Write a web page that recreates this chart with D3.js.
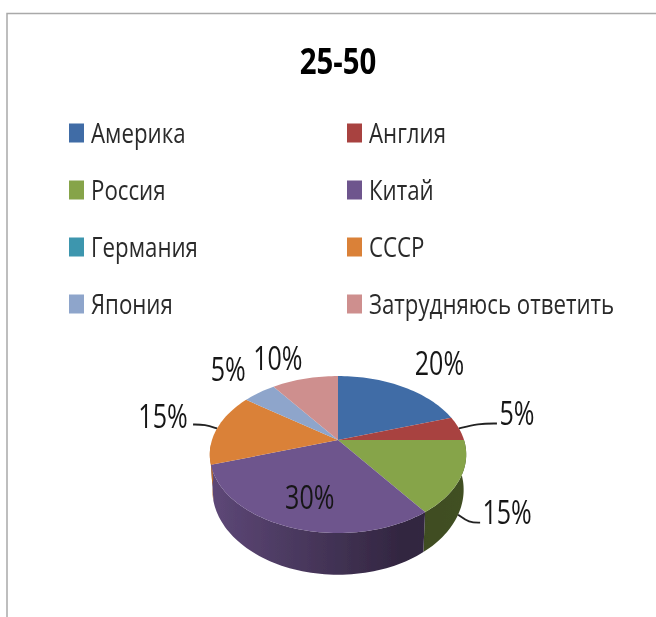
<!DOCTYPE html>
<html>
<head>
<meta charset="UTF-8" />
<title>25-50</title>
<script src="https://d3js.org/d3.v7.min.js"></script>
<style>
    html, body { margin: 0; padding: 0; background: #fff; }
    svg { display: block; }
    text { font-family: "Open Sans", "Noto Sans", sans-serif; fill: #1c1c1c; }
</style>
</head>
<body>
<script>
    const title = '25-50'
    const categories = ['Америка', 'Англия', 'Россия', 'Китай', 'Германия', 'СССР', 'Япония', 'Затрудняюсь ответить']
    const shares = [20, 5, 15, 30, 0, 15, 5, 10]
    const colors = ['#3f6ca6', '#a8423f', '#86a44a', '#6e548d', '#3d96ae', '#da8137', '#8ea5cb', '#ce8f8e']

    const width = 656, height = 617

    const svg = d3.select('body').append('svg').attr('width', width).attr('height', height)
    const defs = svg.append('defs')
    defs.append('filter').attr('id', 'soft')
        .append('feGaussianBlur').attr('stdDeviation', 0.55)
    const root = svg.append('g').attr('filter', 'url(#soft)')

    // frame: only top and left are visible in the crop
    root.append('path').attr('d', d3.line()([[7, height], [7, 13.5], [width, 13.5]]))
        .attr('fill', 'none').attr('stroke', '#a9a9a9').attr('stroke-width', 1.5)

    // narrow the font, the original is Calibri stretched by a screenshot
    function squeezed(sel, x, y, size, anchor, squeeze) {
        return sel.append('text')
            .attr('transform', `translate(${x},${y}) scale(${squeeze},1)`)
            .attr('text-anchor', anchor)
            .style('font-size', size + 'px')
    }

    squeezed(root, 338, 74, 35, 'middle', 0.84).style('font-weight', 700).style('fill', '#000').text(title)

    // legend, filled row by row in two columns
    const rowY = d3.scalePoint().domain(d3.range(4)).range([133, 304])
    const colX = d3.scalePoint().domain(d3.range(2)).range([69, 347])
    const legend = root.selectAll('.legend').data(categories).join('g').attr('class', 'legend')
        .attr('transform', (d, i) => `translate(${colX(i % 2)},${rowY(Math.floor(i / 2))})`)
    legend.append('rect').attr('y', -9.5).attr('width', 15).attr('height', 19)
        .attr('fill', (d, i) => colors[i])
    legend.each(function (d) {
        squeezed(d3.select(this), 22, 10, 26.5, 'start', 0.84).style('fill', '#2b2b2b').text(d)
    })

    // pie seen in perspective: unit circle -> screen
    const cx = 338, cy = 440, A = 126, B = 75.8, k = 0.185, depth = 34
    function project(angle, lower) {
        const u = Math.sin(angle), v = Math.cos(angle), w = 1 + k * v
        if (lower) return [cx + 0.98 * A * u / w, cy - B * v / w + depth / w]
        return [cx + A * u / w, cy - B * v / w]
    }
    function arcPoints(a0, a1, lower) {
        const n = Math.max(2, Math.ceil((a1 - a0) / 0.03))
        return d3.range(n + 1).map(i => project(a0 + (a1 - a0) * i / n, lower))
    }

    const arcs = d3.pie().sort(null).value(d => d)(shares)
    const line = d3.line()
    const frontStart = Math.PI / 2, frontEnd = Math.PI * 1.48

    // side wall, only the part facing the viewer
    arcs.forEach((a, i) => {
        const a0 = Math.max(a.startAngle, frontStart), a1 = Math.min(a.endAngle, frontEnd)
        if (a1 <= a0) return
        const grad = defs.append('linearGradient').attr('id', 'side' + i)
            .attr('gradientUnits', 'userSpaceOnUse')
            .attr('x1', 208).attr('x2', 468).attr('y1', 0).attr('y2', 0)
        grad.append('stop').attr('offset', 0).attr('stop-color', d3.color(colors[i]).darker(0.45))
        grad.append('stop').attr('offset', 0.75).attr('stop-color', d3.color(colors[i]).darker(2.2))
        grad.append('stop').attr('offset', 1).attr('stop-color', d3.color(colors[i]).darker(2))
        root.append('path')
            .attr('d', line(arcPoints(a0, a1, false).concat(arcPoints(a0, a1, true).reverse())) + 'Z')
            .attr('fill', `url(#side${i})`)
    })

    // top face
    root.selectAll('.slice').data(arcs.filter(a => a.value > 0)).join('path').attr('class', 'slice')
        .attr('d', a => line([[cx, cy]].concat(arcPoints(a.startAngle, a.endAngle, false))) + 'Z')
        .attr('fill', a => colors[a.index])

    // labels, offset from the middle of each slice's rim
    const labelOffset = [[37, -24], [58, -15], [49, -3], [19, -30], [0, 0], [-54, -12], [-31, -24], [-27, -21]]
    const leaderEnd = [null, [38, -5], [22, 8], null, null, [-24, -4], null, null]
    const onWall = [false, false, true, false, false, false, false, false]
    const curve = d3.line().curve(d3.curveBasis)

    arcs.forEach((a, i) => {
        if (!a.value) return
        const mid = (a.startAngle + a.endAngle) / 2
        const p = project(mid, onWall[i])
        if (leaderEnd[i]) {
            const e = [p[0] + leaderEnd[i][0], p[1] + leaderEnd[i][1]]
            root.append('path')
                .attr('d', curve([p, [(p[0] + e[0]) / 2, e[1]], e, e]))
                .attr('fill', 'none').attr('stroke', '#222').attr('stroke-width', 1.8)
        }
        squeezed(root, p[0] + labelOffset[i][0], p[1] + labelOffset[i][1] + 12, 33, 'middle', 0.76)
            .style('fill', '#161616').text(shares[i] + '%')
    })
</script>
</body>
</html>
